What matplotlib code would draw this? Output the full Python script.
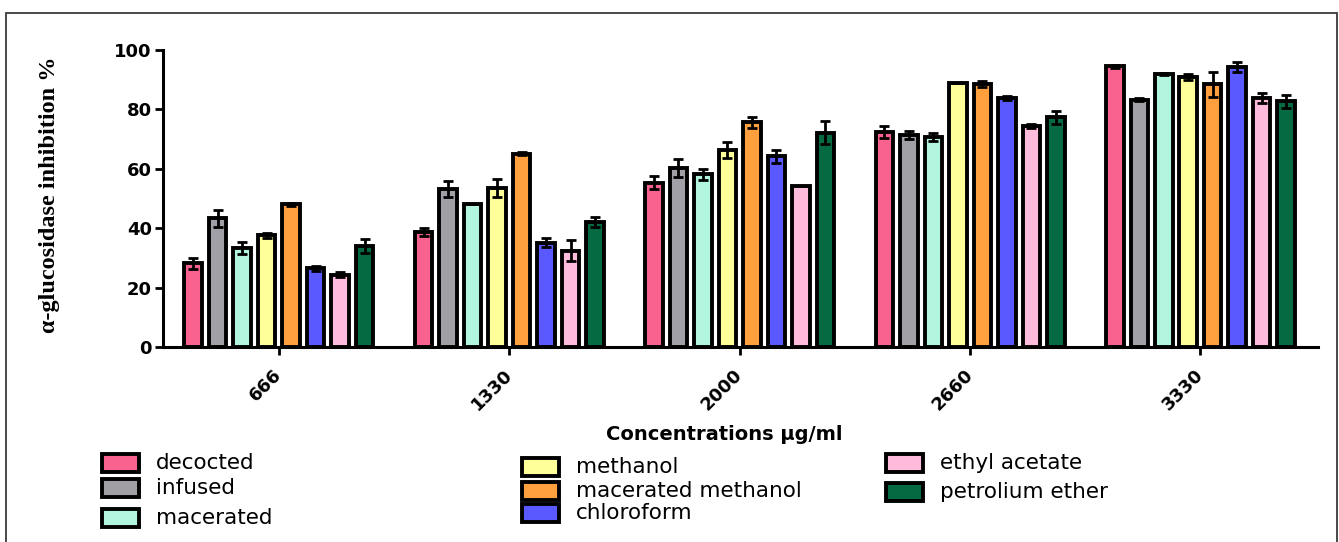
import matplotlib
matplotlib.use("Agg")
import matplotlib.pyplot as plt
import numpy as np
from matplotlib.patches import Rectangle

# ---------------- data ----------------
concentrations = ["666", "1330", "2000", "2660", "3330"]
series_names = ["decocted", "infused", "macerated", "methanol",
                "macerated methanol", "chloroform", "ethyl acetate", "petrolium ether"]
colors = ["#F9628F", "#A0A0A6", "#B2F5DE", "#FFFF99",
          "#FF9F3D", "#5959FF", "#FFBBDC", "#056A42"]

decocted = [28.2, 38.8, 55.3, 72.5, 94.6]
infused = [43.3, 53.1, 60.2, 71.4, 83.2]
macerated = [33.3, 48.1, 58.1, 70.8, 91.9]
methanol = [37.6, 53.4, 66.3, 88.9, 91.0]
macerated_methanol = [48.0, 65.0, 75.6, 88.6, 88.5]
chloroform = [26.5, 35.1, 64.2, 83.7, 94.2]
ethyl_acetate = [24.4, 32.4, 54.3, 74.4, 83.7]
petrolium_ether = [34.1, 42.1, 72.2, 77.3, 82.7]

decocted_err = [1.8, 1.3, 2.2, 2.0, 0.5]
infused_err = [2.9, 2.7, 3.0, 1.2, 0.5]
macerated_err = [2.0, 0.0, 2.0, 1.3, 0.3]
methanol_err = [0.8, 3.0, 2.8, 0.0, 1.0]
macerated_methanol_err = [0.4, 0.5, 1.7, 1.0, 4.2]
chloroform_err = [0.8, 1.5, 2.1, 0.7, 1.6]
ethyl_acetate_err = [0.9, 3.6, 0.0, 0.8, 1.7]
petrolium_ether_err = [2.4, 1.6, 4.0, 2.1, 2.3]

values = [decocted, infused, macerated, methanol, macerated_methanol,
          chloroform, ethyl_acetate, petrolium_ether]
errors = [decocted_err, infused_err, macerated_err, methanol_err,
          macerated_methanol_err, chloroform_err, ethyl_acetate_err,
          petrolium_ether_err]

# ---------------- figure ----------------
W, H = 1339, 542
fig = plt.figure(figsize=(W / 100, H / 100), dpi=100)

def fx(px):
    return px / W

def fy(py):
    return 1 - py / H

ax = fig.add_axes([fx(163), fy(347), fx(1318) - fx(163), fy(50) - fy(347)])

x = np.arange(len(concentrations))
pitch = 0.1063
bw = 0.076
n = len(series_names)
for i, (vals, errs, c) in enumerate(zip(values, errors, colors)):
    pos = x + (i - (n - 1) / 2) * pitch
    ax.bar(pos, vals, width=bw, color=c, edgecolor="black", linewidth=2.8, zorder=2)
    ax.errorbar(pos, vals, yerr=errs, fmt="none", ecolor="black",
                elinewidth=2.0, capsize=3.4, capthick=2.0, zorder=3)

ax.set_xlim(-0.503, 4.51)
ax.set_ylim(0, 100)
ax.set_yticks([0, 20, 40, 60, 80, 100])
ax.set_xticks(x)
ax.set_xticklabels(concentrations, rotation=45, ha="right", va="center",
                   rotation_mode="anchor", fontsize=13, fontweight="bold")
for lab in ax.get_yticklabels():
    lab.set_fontsize(13)
    lab.set_fontweight("bold")
ax.spines["top"].set_visible(False)
ax.spines["right"].set_visible(False)
ax.spines["left"].set_linewidth(2.2)
ax.spines["bottom"].set_linewidth(2.2)
ax.tick_params(axis="y", direction="out", length=6, width=2, pad=2)
ax.tick_params(axis="x", direction="out", length=6, width=2, pad=12)

fig.text(fx(50), fy(195), "α-glucosidase inhibition %", family="Liberation Serif",
         fontweight="bold", fontsize=17.5, rotation=90, ha="center", va="center")

fig.text(fx(724), fy(435), "Concentrations µg/ml", fontsize=14, fontweight="bold",
         ha="center", va="center")

# ---------------- legend (manual, three columns) ----------------
legend_patch_x = [102, 102, 102, 522, 522, 522, 886, 886]
legend_y = [463, 488, 518, 467, 491, 513, 463, 492]
pw, ph = 37, 18
for name, c, lx, ly in zip(series_names, colors, legend_patch_x, legend_y):
    fig.add_artist(Rectangle((fx(lx), fy(ly + ph / 2)), fx(pw), ph / H,
                             transform=fig.transFigure, facecolor=c,
                             edgecolor="black", linewidth=2.8))
    fig.text(fx(lx + pw + 17), fy(ly), name, fontsize=15.5, ha="left", va="center")

# outer frame
fig.add_artist(Rectangle((fx(6), -0.05), fx(1337) - fx(6), fy(13) + 0.05,
                         transform=fig.transFigure, facecolor="none",
                         edgecolor="#3a3a3a", linewidth=1.3))

fig.savefig("out.png", dpi=100)
